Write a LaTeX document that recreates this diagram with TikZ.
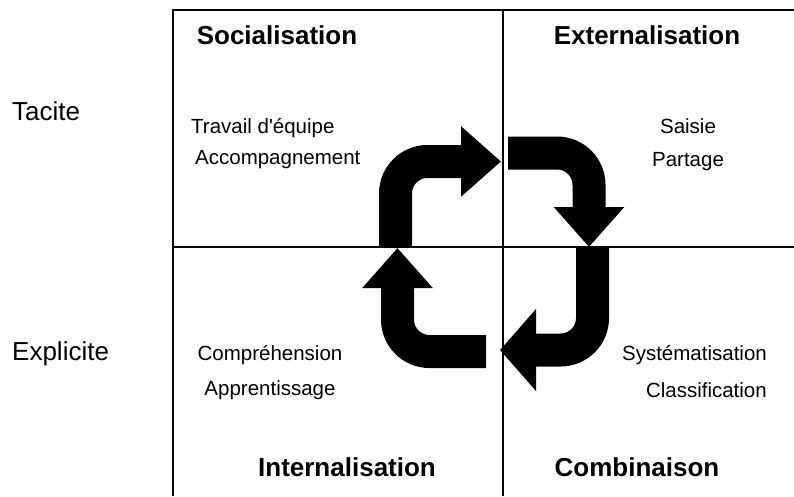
\documentclass[tikz,border=0pt]{standalone}
\usepackage{fontspec}
\setmainfont{Liberation Sans}
\usetikzlibrary{positioning,arrows.meta}

\begin{document}
\begin{tikzpicture}[
    x=1pt, y=-1pt,
    axis/.style={font={\fontsize{26}{30}\selectfont},inner sep=0pt,anchor=base west},
    mode/.style={font={\fontsize{26}{30}\selectfont\bfseries},inner sep=0pt,anchor=base},
    item/.style={font={\fontsize{20.5}{24}\selectfont},inner sep=0pt,anchor=base},
    gridline/.style={line width=2pt},
    cyclearrow/.style={line width=33pt,rounded corners=32pt,-{Triangle[length=40pt,width=68pt]}},
    bigarrow/.style={cyclearrow,-{Triangle[length=36pt,width=80pt]}},
]
    \useasboundingbox (0,0) rectangle (794,496);

    % Grid
    \coordinate (topleft)  at (173,10);
    \coordinate (topright) at (794,10);
    \coordinate (botleft)  at (173,496);
    \coordinate (topmid)   at (503,10);
    \coordinate (botmid)   at (503,496);
    \coordinate (midleft)  at (173,247);
    \coordinate (midright) at (794,247);
    \draw[gridline] (botleft) -- (topleft) -- (topright);
    \draw[gridline] (topmid) -- (botmid);
    \draw[gridline] (midleft) -- (midright);

    % Rows
    \node[axis] (tacite)    at (12,120) {Tacite};
    \node[axis] (explicite) at (12,360) {Explicite};

    % Modes
    \node[mode] (socialisation)   at (277,44)  {Socialisation};
    \node[mode] (externalisation) at (647,44)  {Externalisation};
    \node[mode] (internalisation) at (347,476) {Internalisation};
    \node[mode] (combinaison)     at (637,476) {Combinaison};

    % Activities
    \node[item,anchor=base west] (travail) at (191,133) {Travail d\textquotesingle équipe};
    \node[item,below=31pt of travail.base west,anchor=base west,xshift=4pt] (accompagnement) {Accompagnement};
    \node[item] (saisie) at (688,133) {Saisie};
    \node[item,below=33pt of saisie.base,anchor=base] (partage) {Partage};
    \node[item] (comprehension) at (270,360) {Compréhension};
    \node[item,below=35pt of comprehension.base,anchor=base] (apprentissage) {Apprentissage};
    \node[item,anchor=base east] (systematisation) at (767,360) {Systématisation};
    \node[item,below=37pt of systematisation.base east,anchor=base east] (classification) {Classification};

    % Cycle
    \coordinate (sstart) at (395.5,247);
    \coordinate (send)   at (501,161.5);
    \coordinate (estart) at (508,153);
    \coordinate (eend)   at (589,247);
    \coordinate (cstart) at (592.5,247);
    \coordinate (cend)   at (500,350);
    \coordinate (istart) at (486,351.5);
    \coordinate (iend)   at (397.5,248);
    \draw[cyclearrow] (sstart) |- (send);
    \draw[cyclearrow] (estart) -| (eend);
    \draw[bigarrow]   (cstart) |- (cend);
    \draw[cyclearrow] (istart) -| (iend);

\end{tikzpicture}
\end{document}
